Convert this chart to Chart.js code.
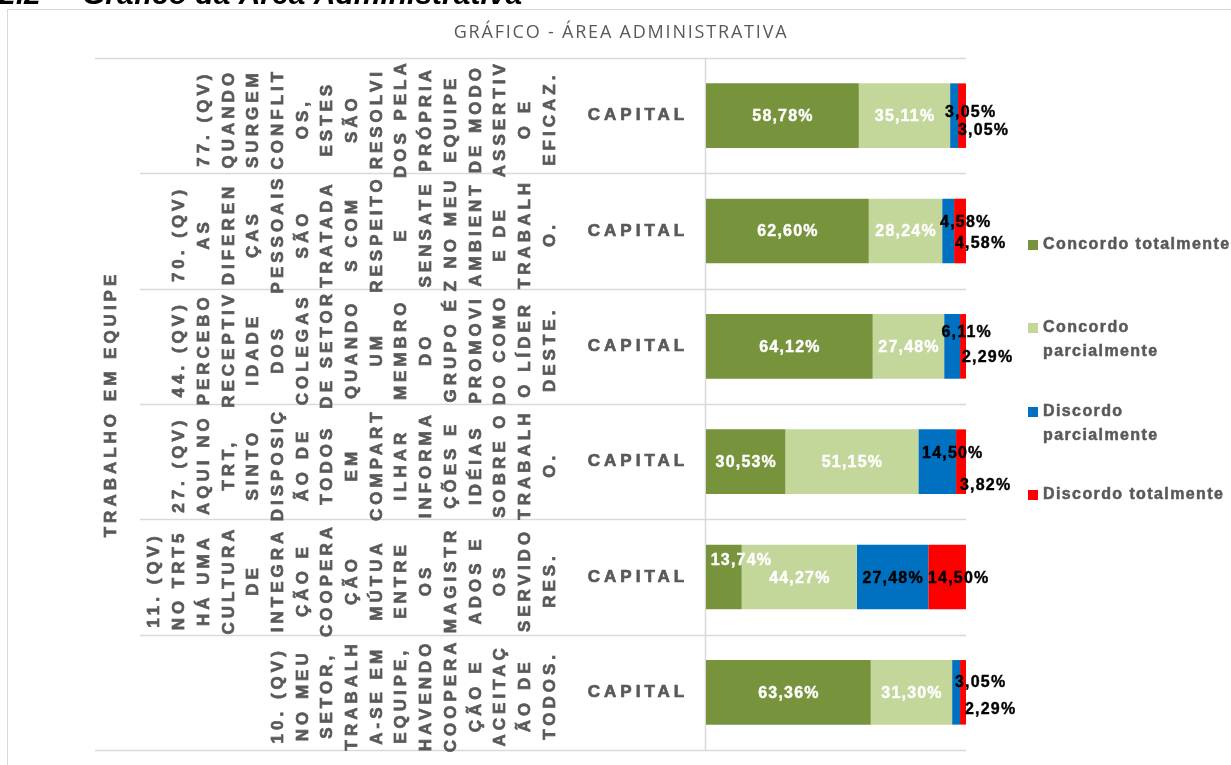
<!DOCTYPE html>
<html lang="pt-BR">
<head>
<meta charset="utf-8">
<title>Gráfico - Área Administrativa</title>
<script src="https://cdn.jsdelivr.net/npm/chart.js@4.4.1/dist/chart.umd.min.js"></script>
<style>
  html, body { margin: 0; padding: 0; background: #ffffff; }
  #wrap { position: relative; width: 1231px; height: 765px; overflow: hidden; }
</style>
</head>
<body>
<div id="wrap"><canvas id="chart" width="1231" height="765"></canvas></div>
<script>
'use strict';

// ── Data ────────────────────────────────────────────────────
const sectionHeading = ['2.2', 'Gráfico da Área Administrativa'];
const chartTitle  = 'GRÁFICO - ÁREA ADMINISTRATIVA';
const groupLabel  = 'TRABALHO EM EQUIPE';
const regionLabel = 'CAPITAL';

// question labels, already wrapped the way the axis shows them
const questions = [
  ['77. (QV)', 'QUANDO', 'SURGEM', 'CONFLIT', 'OS,', 'ESTES', 'SÃO', 'RESOLVI', 'DOS PELA',
   'PRÓPRIA', 'EQUIPE', 'DE MODO', 'ASSERTIV', 'O E', 'EFICAZ.'],
  ['70. (QV)', 'AS', 'DIFEREN', 'ÇAS', 'PESSOAIS', 'SÃO', 'TRATADA', 'S COM', 'RESPEITO', 'E',
   'SENSATE', 'Z NO MEU', 'AMBIENT', 'E DE', 'TRABALH', 'O.'],
  ['44. (QV)', 'PERCEBO', 'RECEPTIV', 'IDADE', 'DOS', 'COLEGAS', 'DE SETOR', 'QUANDO', 'UM',
   'MEMBRO', 'DO', 'GRUPO É', 'PROMOVI', 'DO COMO', 'O LÍDER', 'DESTE.'],
  ['27. (QV)', 'AQUI NO', 'TRT,', 'SINTO', 'DISPOSIÇ', 'ÃO DE', 'TODOS', 'EM', 'COMPART',
   'ILHAR', 'INFORMA', 'ÇÕES E', 'IDÉIAS', 'SOBRE O', 'TRABALH', 'O.'],
  ['11. (QV)', 'NO TRT5', 'HÁ UMA', 'CULTURA', 'DE', 'INTEGRA', 'ÇÃO E', 'COOPERA', 'ÇÃO',
   'MÚTUA', 'ENTRE', 'OS', 'MAGISTR', 'ADOS E', 'OS', 'SERVIDO', 'RES.'],
  ['10. (QV)', 'NO MEU', 'SETOR,', 'TRABALH', 'A-SE EM', 'EQUIPE,', 'HAVENDO', 'COOPERA',
   'ÇÃO E', 'ACEITAÇ', 'ÃO DE', 'TODOS.']
];

const seriesNames = ['Concordo totalmente', 'Concordo parcialmente', 'Discordo parcialmente', 'Discordo totalmente'];
const legendLines = [['Concordo totalmente'], ['Concordo', 'parcialmente'], ['Discordo', 'parcialmente'], ['Discordo totalmente']];

const concordoTotal   = [58.78, 62.60, 64.12, 30.53, 13.74, 63.36];
const concordoParcial = [35.11, 28.24, 27.48, 51.15, 44.27, 31.30];
const discordoParcial = [3.05, 4.58, 6.11, 14.50, 27.48, 3.05];
const discordoTotal   = [3.05, 4.58, 2.29, 3.82, 14.50, 2.29];

// ── Styling ─────────────────────────────────────────────────
const colors     = ['#77933C', '#C4D79B', '#0070C0', '#FF0000'];
const labelInk   = ['#ffffff', '#ffffff', '#000000', '#000000'];
const gridColor  = '#D9D9D9';
const axisInk    = '#595959';

// Excel moved the crowded data labels off the segment centre; [dx, dy] per series/row
const labelNudge = [
  [[0, 1], [0, 1], [0, 1], [0, 1], [17, -16], [0, 1]],
  [[0, 1], [0, 1], [0, 1], [0, 1], [0, 2], [0, 1]],
  [[16, -3], [17, -8], [14, -14], [15, -8], [0, 2], [24, -10]],
  [[21, 15], [20, 13], [24, 11], [24, 24], [11, 2], [27, 17]]
];

const fmtPct = v => v.toFixed(2).replace('.', ',') + '%';

// ── Plugin: everything Excel draws around the bars ──────────
const excelLook = {
  id: 'excelLook',

  beforeDraw(chart) {
    const { ctx, chartArea: area } = chart;
    const y = chart.scales.y;
    const step = y.getPixelForValue(1) - y.getPixelForValue(0);

    ctx.save();
    // cut-off section heading at the very top
    ctx.fillStyle = '#000000';
    ctx.font = 'italic bold 30px "Liberation Sans", Arial, sans-serif';
    ctx.textBaseline = 'alphabetic';
    ctx.textAlign = 'left';
    ctx.fillText(sectionHeading[0], -1, 4);
    ctx.fillText(sectionHeading[1], 82, 4);

    // chart frame
    ctx.strokeStyle = gridColor;
    ctx.lineWidth = 1;
    ctx.strokeRect(7.5, 9.5, 1300, 900);

    // title
    ctx.fillStyle = axisInk;
    ctx.font = '18px "Open Sans", sans-serif';
    ctx.letterSpacing = '1.8px';
    ctx.textAlign = 'center';
    ctx.textBaseline = 'middle';
    ctx.fillText(chartTitle, 621, 33);
    ctx.letterSpacing = '0px';

    // category separators
    ctx.strokeStyle = gridColor;
    ctx.lineWidth = 1.5;
    ctx.beginPath();
    for (let i = 0; i <= questions.length; i++) {
      const py = Math.round(y.getPixelForValue(i) - step / 2) + 0.5;
      const x0 = (i === 0 || i === questions.length) ? 95 : 140;
      ctx.moveTo(x0, py);
      ctx.lineTo(area.right, py);
    }
    ctx.moveTo(area.left - 0.5, area.top);
    ctx.lineTo(area.left - 0.5, area.bottom);
    ctx.stroke();
    ctx.restore();
  },

  afterDatasetsDraw(chart) {
    const { ctx } = chart;
    ctx.save();
    ctx.font = 'bold 16px "Liberation Sans", Arial, sans-serif';
    ctx.letterSpacing = '1.2px';
    ctx.textAlign = 'center';
    ctx.textBaseline = 'middle';
    ctx.lineWidth = 0.4;
    chart.data.datasets.forEach((ds, d) => {
      const meta = chart.getDatasetMeta(d);
      meta.data.forEach((bar, i) => {
        const [dx, dy] = labelNudge[d][i];
        const cx = (bar.x + bar.base) / 2 + dx;
        ctx.fillStyle = labelInk[d];
        ctx.strokeStyle = labelInk[d];
        ctx.fillText(fmtPct(ds.data[i]), cx + 0.6, bar.y + dy);
        ctx.strokeText(fmtPct(ds.data[i]), cx + 0.6, bar.y + dy);
      });
    });
    ctx.restore();
  },

  afterDraw(chart) {
    const { ctx } = chart;
    const y = chart.scales.y;

    ctx.save();
    ctx.fillStyle = axisInk;
    ctx.strokeStyle = axisInk;
    ctx.lineWidth = 0.7;
    ctx.font = 'bold 17px "Liberation Sans", Arial, sans-serif';
    ctx.letterSpacing = '4px';
    ctx.textAlign = 'center';
    ctx.textBaseline = 'middle';

    const heavyText = (txt, x, yy) => {
      ctx.fillText(txt, x, yy);
      ctx.strokeText(txt, x, yy);
    };
    const vText = (txt, x, cy) => {
      ctx.save();
      ctx.translate(x, cy);
      ctx.rotate(-Math.PI / 2);
      heavyText(txt, 0, 0);
      ctx.restore();
    };

    // outer level: group name, centred on the whole axis
    vText(groupLabel, 111, (chart.chartArea.top + chart.chartArea.bottom) / 2);

    questions.forEach((lines, i) => {
      const cy = y.getPixelForValue(i) + 3;
      const n = lines.length;
      lines.forEach((ln, k) => vText(ln, 550 - (n - 1 - k) * 24.7, cy));
      heavyText(regionLabel, 638, y.getPixelForValue(i));
    });

    // legend
    ctx.font = 'bold 16px "Liberation Sans", Arial, sans-serif';
    ctx.letterSpacing = '1.4px';
    ctx.lineWidth = 0.5;
    ctx.textAlign = 'left';
    const firstLineY = [245, 328, 412, 495];
    chart.data.datasets.forEach((ds, d) => {
      ctx.fillStyle = ds.backgroundColor;
      ctx.fillRect(1028, firstLineY[d] - 5, 10, 10);
      ctx.fillStyle = axisInk;
      legendLines[d].forEach((ln, k) => heavyText(ln, 1043, firstLineY[d] + k * 24));
    });
    ctx.restore();
  }
};

// ── Chart ───────────────────────────────────────────────────
const seriesValues = [concordoTotal, concordoParcial, discordoParcial, discordoTotal];

new Chart(document.getElementById('chart').getContext('2d'), {
  type: 'bar',
  data: {
    labels: questions.map(q => q.join(' ')),
    datasets: seriesNames.map((name, d) => ({
      label: name,
      data: seriesValues[d],
      backgroundColor: colors[d],
      borderWidth: 0,
      categoryPercentage: 1,
      barPercentage: 0.56
    }))
  },
  options: {
    indexAxis: 'y',
    responsive: false,
    animation: false,
    layout: { padding: { left: 706, right: 265, top: 58, bottom: 15 } },
    scales: {
      x: { stacked: true, min: 0, max: 100, display: false },
      y: { stacked: true, display: false }
    },
    plugins: {
      legend: { display: false },
      tooltip: { enabled: false }
    }
  },
  plugins: [excelLook]
});
</script>
</body>
</html>
